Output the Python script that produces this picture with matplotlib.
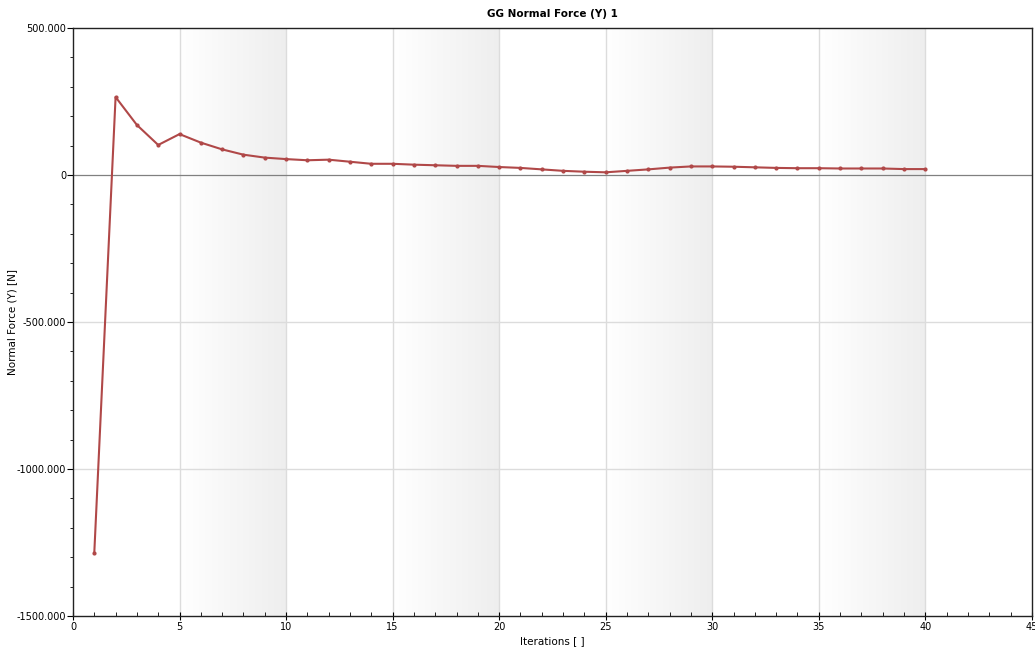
import matplotlib
matplotlib.use('Agg')
import matplotlib.pyplot as plt
import numpy as np
from matplotlib.colors import LinearSegmentedColormap
from matplotlib.ticker import MultipleLocator, FuncFormatter

iterations = list(range(1, 41))
normal_force = [-1286, 265, 170, 102, 139, 110, 87, 69, 59, 54,
                50, 52, 45, 38, 38, 35, 33, 31, 31, 27,
                24, 19, 14, 11, 9, 14, 19, 25, 29, 29,
                28, 26, 24, 23, 23, 22, 22, 22, 20, 20]
shaded_bands = [(5, 10), (15, 20), (25, 30), (35, 40)]

fig = plt.figure(figsize=(10.35, 6.5), dpi=100)
ax = fig.add_axes([0.0705, 0.0523, 0.9265, 0.9047])

cmap = LinearSegmentedColormap.from_list('band', ['#ffffff', '#eeeeee'])
grad = np.linspace(0, 1, 256).reshape(1, -1)
for x0, x1 in shaded_bands:
    ax.imshow(grad, extent=(x0, x1, -1500, 500), cmap=cmap, aspect='auto',
              zorder=0, interpolation='bicubic')

for x in range(5, 45, 5):
    ax.axvline(x, color='#dcdcdc', lw=1, zorder=1)
for y in (-500, -1000):
    ax.axhline(y, color='#dcdcdc', lw=1, zorder=1)
ax.axhline(0, color='#808080', lw=0.9, zorder=1)

ax.plot(iterations, normal_force, color='#b04848', lw=1.5, marker='o',
        markersize=2, zorder=3)

ax.set_xlim(0, 45)
ax.set_ylim(-1500, 500)
ax.xaxis.set_major_locator(MultipleLocator(5))
ax.xaxis.set_minor_locator(MultipleLocator(1))
ax.yaxis.set_major_locator(MultipleLocator(500))
ax.yaxis.set_minor_locator(MultipleLocator(100))
ax.yaxis.set_major_formatter(FuncFormatter(lambda v, p: '0' if v == 0 else '%.3f' % v))

ax.tick_params(axis='x', which='major', direction='inout', length=6, labelsize=7, pad=1)
ax.tick_params(axis='x', which='minor', direction='in', length=3)
ax.tick_params(axis='y', which='major', direction='out', length=4, labelsize=7, pad=1)
ax.tick_params(axis='y', which='minor', direction='out', length=2)

for s in ax.spines.values():
    s.set_color('#222222')
    s.set_linewidth(1)

ax.set_title('GG Normal Force (Y) 1', fontsize=7.5, fontweight='bold', pad=8)
ax.set_xlabel('Iterations [ ]', fontsize=7.5, labelpad=3)
ax.set_ylabel('Normal Force (Y) [N]', fontsize=7.5)
ax.yaxis.set_label_coords(-0.058, 0.5)

fig.savefig('out.png', dpi=100)
plt.close(fig)
